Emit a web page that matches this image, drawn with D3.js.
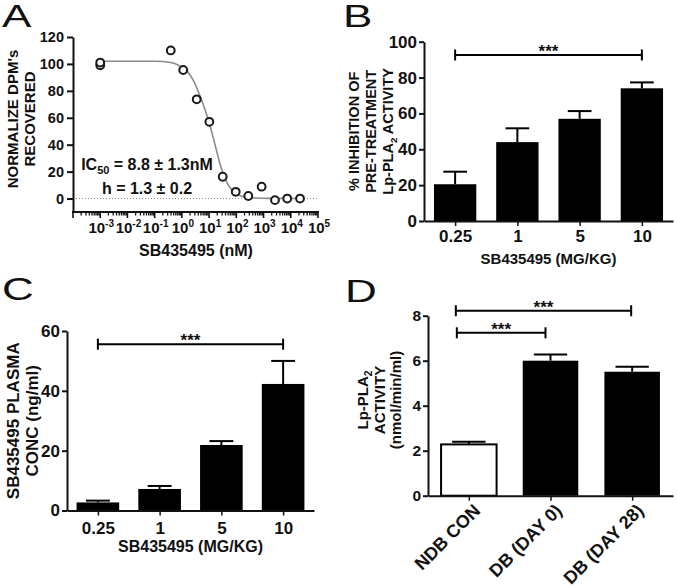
<!DOCTYPE html>
<html><head><meta charset="utf-8">
<script src="https://cdn.jsdelivr.net/npm/d3@7"></script>
<style>
body{margin:0;background:#fff;}
svg{font-family:"Liberation Sans", Arial, Helvetica, sans-serif;}
</style></head><body>
<svg id="c" width="677" height="587"></svg>
<script>
// ---------- Panel A data ----------
const aConc   = [0.001, 0.001, 0.39, 1.12, 3.5, 10.2, 31.6, 95, 275, 850, 2630, 7400, 21900];
const aValue  = [99, 101, 110, 95.5, 73.7, 57, 16.2, 5, 1.9, 8.8, -1.2, 0, 0];
const aCurveConc  = [0.001, 0.1, 0.4, 0.85, 1.5, 2.6, 4.7, 7.1, 10.2, 16.5, 25, 38, 67, 137, 320, 1700, 24000];
const aCurveValue = [102, 102, 101, 98.5, 95, 88, 76, 66, 56, 40, 26, 15, 6.5, 2, 0.6, 0.1, 0];
const aYTicks = [0, 20, 40, 60, 80, 100, 120];
const aXExponents = [-3, -2, -1, 0, 1, 2, 3, 4, 5];

// ---------- Panel B data ----------
const bCategories = ["0.25", "1", "5", "10"];
const bMeans  = [20.5, 44, 57, 74];
const bErrors = [7, 7.7, 4.3, 3.3];
const bYTicks = [0, 20, 40, 60, 80, 100];
const bSig = [{from: "0.25", to: "10", y: 92.6, label: "***"}];

// ---------- Panel C data ----------
const cCategories = ["0.25", "1", "5", "10"];
const cMeans  = [2.7, 7.2, 21.9, 42.3];
const cErrors = [0.6, 1.0, 1.3, 7.7];
const cYTicks = [0, 20, 40, 60];
const cSig = [{from: "0.25", to: "10", y: 55.6, label: "***"}];

// ---------- Panel D data ----------
const dCategories = ["NDB CON", "DB (DAY 0)", "DB (DAY 28)"];
const dMeans  = [2.28, 6.0, 5.51];
const dErrors = [0.12, 0.28, 0.22];
const dFills  = ["#ffffff", "#000000", "#000000"];
const dYTicks = [0, 2, 4, 6, 8];
const dSig = [
  {from: "NDB CON", to: "DB (DAY 28)", y: 8.22, label: "***"},
  {from: "NDB CON", to: "DB (DAY 0)",  y: 7.24, label: "***"}
];

const svg = d3.select("#c");
const INK = "#111";

function panelLetter(t, x, y) {
  svg.append("text").attr("transform", `translate(${x},${y}) scale(1.42,1)`)
    .attr("font-size", 31).attr("fill", INK).text(t);
}

function styleYAxis(g, fs) {
  g.select(".domain").attr("stroke", INK).attr("stroke-width", 2);
  g.selectAll(".tick line").attr("stroke", INK).attr("stroke-width", 2);
  g.selectAll(".tick text").attr("font-size", fs).attr("font-weight", "bold")
    .attr("fill", INK).attr("font-family", "Liberation Sans, Arial, sans-serif");
}

// ================= Panel A =================
(function () {
  const x = d3.scaleLog().domain([1e-4, 1e5]).range([73, 318]);
  const y = d3.scaleLinear().domain([-10, 120]).range([212, 37]);

  // dotted zero line
  svg.append("line").attr("x1", 73).attr("x2", 318).attr("y1", y(0)).attr("y2", y(0))
    .attr("stroke", "#888").attr("stroke-width", 1).attr("stroke-dasharray", "1,2");

  // y axis
  const gy = svg.append("g").attr("transform", "translate(73,0)")
    .call(d3.axisLeft(y).tickValues(aYTicks).tickSize(6).tickSizeOuter(0).tickPadding(3));
  styleYAxis(gy, 14.5);

  // x axis (custom log ticks)
  const gx = svg.append("g");
  gx.append("line").attr("x1", 72).attr("x2", 319).attr("y1", 212).attr("y2", 212)
    .attr("stroke", INK).attr("stroke-width", 2);
  const minor = [];
  for (let e = -4; e < 5; e++) for (let m = 2; m <= 9; m++) minor.push(m * Math.pow(10, e));
  gx.selectAll("line.minor").data(minor).join("line").attr("class", "minor")
    .attr("x1", d => x(d)).attr("x2", d => x(d)).attr("y1", 212).attr("y2", 215.5)
    .attr("stroke", INK).attr("stroke-width", 1.3);
  const majors = [-4].concat(aXExponents);
  gx.selectAll("line.major").data(majors).join("line").attr("class", "major")
    .attr("x1", d => x(Math.pow(10, d))).attr("x2", d => x(Math.pow(10, d)))
    .attr("y1", 212).attr("y2", 218).attr("stroke", INK).attr("stroke-width", 1.6);
  const lbl = gx.selectAll("text.xl").data(aXExponents).join("text").attr("class", "xl")
    .attr("x", d => x(Math.pow(10, d)) + 1).attr("y", 233)
    .attr("text-anchor", "middle").attr("font-size", 15).attr("font-weight", "bold").attr("fill", INK);
  lbl.append("tspan").text("10");
  lbl.append("tspan").attr("dy", -6).attr("font-size", 10).text(d => d < 0 ? "-" + (-d) : String(d));

  // curve
  const curvePts = aCurveConc.map((c, i) => [c, aCurveValue[i]]);
  svg.append("path").datum(curvePts)
    .attr("d", d3.line().x(d => x(d[0])).y(d => y(d[1])).curve(d3.curveMonotoneX))
    .attr("fill", "none").attr("stroke", "#8c8c8c").attr("stroke-width", 1.6);

  // points
  const pts = aConc.map((c, i) => [c, aValue[i]]);
  svg.selectAll("circle.pa").data(pts).join("circle").attr("class", "pa")
    .attr("cx", d => x(d[0])).attr("cy", d => y(d[1])).attr("r", 3.9)
    .attr("fill", "#fff").attr("stroke", "#1a1a1a").attr("stroke-width", 2);

  // annotation
  const t1 = svg.append("text").attr("x", 147).attr("y", 170).attr("text-anchor", "middle")
    .attr("font-size", 16).attr("font-weight", "bold").attr("fill", INK);
  t1.append("tspan").text("IC");
  t1.append("tspan").attr("dy", 4).attr("font-size", 11).text("50");
  t1.append("tspan").attr("dy", -4).text(" = 8.8 \u00B1 1.3nM");
  svg.append("text").attr("x", 147).attr("y", 194).attr("text-anchor", "middle")
    .attr("font-size", 16).attr("font-weight", "bold").attr("fill", INK)
    .text("h = 1.3 \u00B1 0.2");

  // titles
  svg.append("text").attr("x", 196).attr("y", 256).attr("text-anchor", "middle")
    .attr("font-size", 16).attr("font-weight", "bold").attr("fill", INK).text("SB435495 (nM)");
  const yt = svg.append("text").attr("transform", "translate(0,119) rotate(-90)")
    .attr("text-anchor", "middle").attr("font-size", 15).attr("font-weight", "bold").attr("fill", INK);
  yt.append("tspan").attr("x", 0).attr("y", 18).text("NORMALIZE DPM's");
  yt.append("tspan").attr("x", 0).attr("y", 35).text("RECOVERED");

  panelLetter("A", 2, 27);
})();

// ================= Bar panel helper =================
function barPanel(o) {
  const x = d3.scalePoint().domain(o.cats).range([o.x0, o.x1]).padding(0.5);
  const step = x.step();
  const bw = step * o.bwFrac;
  const y = d3.scaleLinear().domain([0, o.yMax]).range([o.yBase, o.yTopPx]);

  // bars
  const g = svg.append("g");
  g.selectAll("rect").data(o.cats).join("rect")
    .attr("x", c => x(c) - bw / 2).attr("width", bw)
    .attr("y", (c, i) => y(o.means[i])).attr("height", (c, i) => o.yBase - y(o.means[i]))
    .attr("fill", (c, i) => o.fills ? o.fills[i] : "#000")
    .attr("stroke", "#000").attr("stroke-width", (c, i) => o.fills && o.fills[i] !== "#000000" ? 2 : 0);
  // error bars (upper)
  const capW = bw * o.capFrac;
  g.selectAll("line.ev").data(o.cats).join("line").attr("class", "ev")
    .attr("x1", c => x(c)).attr("x2", c => x(c))
    .attr("y1", (c, i) => y(o.means[i])).attr("y2", (c, i) => y(o.means[i] + o.errs[i]))
    .attr("stroke", "#000").attr("stroke-width", 2);
  g.selectAll("line.ec").data(o.cats).join("line").attr("class", "ec")
    .attr("x1", c => x(c) - capW / 2).attr("x2", c => x(c) + capW / 2)
    .attr("y1", (c, i) => y(o.means[i] + o.errs[i])).attr("y2", (c, i) => y(o.means[i] + o.errs[i]))
    .attr("stroke", "#000").attr("stroke-width", 2);

  // y axis
  const gy = svg.append("g").attr("transform", `translate(${o.x0},0)`)
    .call(d3.axisLeft(y).tickValues(o.yTicks).tickSize(5).tickSizeOuter(0).tickPadding(2));
  styleYAxis(gy, o.tickFs);

  // x axis
  const gx = svg.append("g").attr("transform", `translate(0,${o.yBase})`)
    .call(d3.axisBottom(x).tickSize(5).tickSizeOuter(0).tickPadding(4));
  gx.select(".domain").attr("stroke", INK).attr("stroke-width", 2);
  gx.selectAll(".tick line").attr("stroke", INK).attr("stroke-width", 1.5);
  const tt = gx.selectAll(".tick text").attr("font-size", o.xFs).attr("font-weight", "bold")
    .attr("fill", INK).attr("font-family", "Liberation Sans, Arial, sans-serif");
  if (o.rotate) {
    tt.attr("text-anchor", "end").attr("dy", null).attr("y", 0)
      .attr("transform", "translate(12,16) rotate(-45)");
  } else {
    tt.attr("dy", null).attr("y", o.xLabelDy);
  }

  // significance bars
  o.sig.forEach((s, k) => {
    const xa = x(s.from) + (o.sigDx ? o.sigDx[k][0] : 0);
    const xb = x(s.to) + (o.sigDx ? o.sigDx[k][1] : 0);
    const yy = y(s.y);
    const sg = svg.append("g").attr("stroke", "#000").attr("stroke-width", 2);
    sg.append("line").attr("x1", xa).attr("x2", xb).attr("y1", yy).attr("y2", yy);
    sg.append("line").attr("x1", xa).attr("x2", xa).attr("y1", yy - 5.5).attr("y2", yy + 5.5);
    sg.append("line").attr("x1", xb).attr("x2", xb).attr("y1", yy - 5.5).attr("y2", yy + 5.5);
    svg.append("text").attr("x", (xa + xb) / 2).attr("y", yy + 2).attr("text-anchor", "middle")
      .attr("font-size", 17).attr("font-weight", "bold").attr("fill", INK).text(s.label);
  });

  // x title
  if (o.xTitle) {
    svg.append("text").attr("x", (o.x0 + o.x1) / 2).attr("y", o.xTitleY).attr("text-anchor", "middle")
      .attr("font-size", o.titleFs).attr("font-weight", "bold").attr("fill", INK).text(o.xTitle);
  }
  // y title
  const cy = (o.yBase + o.yTopPx) / 2;
  const yt = svg.append("text").attr("transform", `translate(0,${o.yTitleCy || cy}) rotate(-90)`)
    .attr("text-anchor", "middle").attr("font-size", o.yTitleFs).attr("fill", INK)
    .attr("font-weight", "bold");
  o.yTitleLines.forEach((ln, i) => {
    const t = yt.append("tspan").attr("x", 0).attr("y", o.yTitleX[i]);
    ln.forEach(part => {
      const s = t.append("tspan").text(part.t);
      if (part.sub) s.attr("font-size", o.yTitleFs * 0.68).attr("dy", 4);
      if (part.after) s.attr("dy", -4);
    });
  });
}

// ================= Panel B =================
barPanel({
  cats: bCategories, means: bMeans, errs: bErrors, yTicks: bYTicks, sig: bSig,
  x0: 424, x1: 673, yBase: 221, yTopPx: 41.7, yMax: 100, bwFrac: 0.68, capFrac: 0.56,
  tickFs: 17, xFs: 17, xLabelDy: 21, xTitle: "SB435495 (MG/KG)", xTitleY: 264, titleFs: 15,
  yTitleFs: 14.5, yTitleX: [359, 376, 393],
  yTitleLines: [[{t: "% INHIBITION OF"}], [{t: "PRE-TREATMENT"}],
                [{t: "Lp-PLA"}, {t: "2", sub: true}, {t: " ACTIVITY", after: true}]]
});
panelLetter("B", 343, 27);

// ================= Panel C =================
barPanel({
  cats: cCategories, means: cMeans, errs: cErrors, yTicks: cYTicks, sig: cSig,
  x0: 67, x1: 314, yBase: 510.5, yTopPx: 331, yMax: 60, bwFrac: 0.69, capFrac: 0.56,
  tickFs: 17, xFs: 17, xLabelDy: 23, xTitle: "SB435495 (MG/KG)", xTitleY: 552, titleFs: 16,
  yTitleFs: 17, yTitleX: [19, 38],
  yTitleLines: [[{t: "SB435495 PLASMA"}], [{t: "CONC (ng/ml)"}]]
});
panelLetter("C", 2, 300);

// ================= Panel D =================
barPanel({
  cats: dCategories, means: dMeans, errs: dErrors, fills: dFills, yTicks: dYTicks, sig: dSig,
  sigDx: [[-13, -1], [-12, -5]],
  x0: 428, x1: 673, yBase: 495.7, yTopPx: 315.7, yMax: 8, bwFrac: 0.68, capFrac: 0.6,
  tickFs: 15.5, xFs: 18, rotate: true, xTitle: null,
  yTitleFs: 15, yTitleX: [368, 385, 401], yTitleCy: 400,
  yTitleLines: [[{t: "Lp-PLA"}, {t: "2", sub: true}], [{t: "ACTIVITY"}], [{t: "(nmol/min/ml)"}]]
});
panelLetter("D", 345, 302);
</script>
</body></html>
